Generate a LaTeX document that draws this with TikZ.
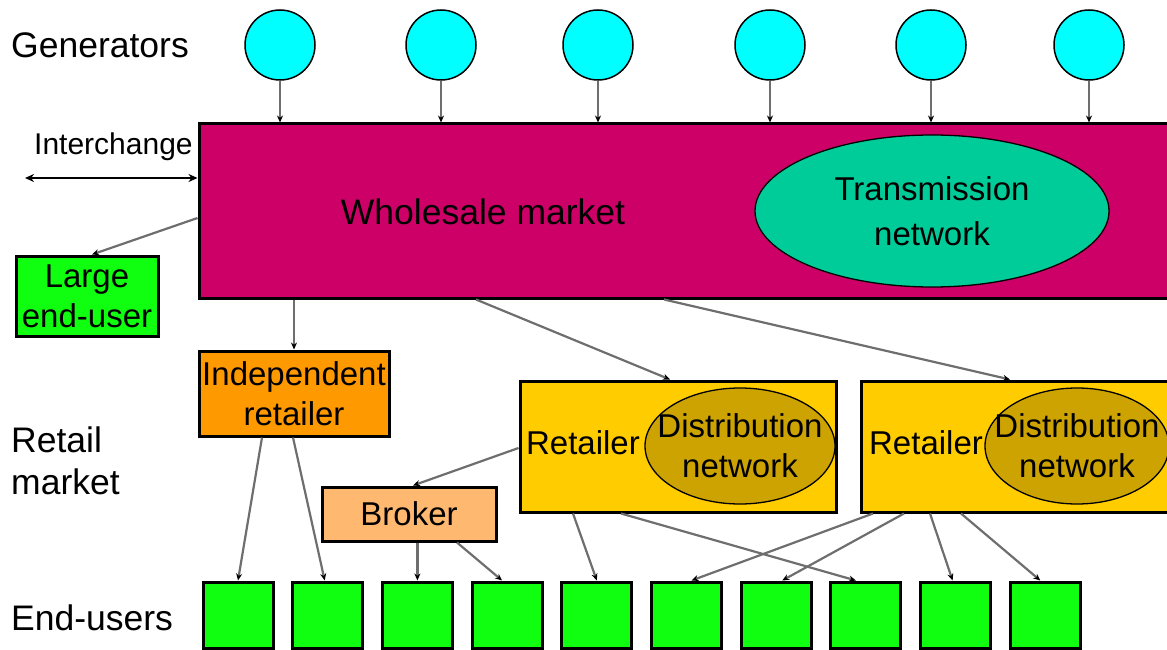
\documentclass[tikz,border=0pt]{standalone}
\usepackage{fontspec}
\setmainfont{Liberation Sans}
\usetikzlibrary{arrows.meta,shapes.geometric,calc}

\definecolor{gencyan}{RGB}{0,255,255}
\definecolor{wholesale}{RGB}{204,0,102}
\definecolor{transgreen}{RGB}{0,204,153}
\definecolor{usergreen}{RGB}{16,255,16}
\definecolor{indorange}{RGB}{255,153,0}
\definecolor{brokerpeach}{RGB}{255,184,112}
\definecolor{retailgold}{RGB}{255,204,0}
\definecolor{distgold}{RGB}{204,163,0}
\definecolor{linkgray}{RGB}{110,110,110}

\tikzset{
  txt/.style={font=\fontsize{33}{40}\selectfont, inner sep=0pt},
  bigtxt/.style={font=\fontsize{35.5}{42}\selectfont, inner sep=0pt},
  gen/.style={circle, draw=black, line width=1.5pt, fill=gencyan, minimum size=70pt, inner sep=0pt},
  boxed/.style={rectangle, draw=black, line width=3pt, inner sep=0pt, align=center, txt},
  oval/.style={ellipse, draw=black, line width=1.3pt, inner sep=0pt},
  enduser/.style={boxed, fill=usergreen, minimum width=70pt, minimum height=66pt},
  conn/.style={draw=linkgray, line width=2.2pt, -{Stealth[length=7pt,width=6pt,color=black]}},
}

\begin{document}
\begin{tikzpicture}[x=1pt,y=-1pt]
\useasboundingbox (0,0) rectangle (1167,650);

% side labels
\node[bigtxt, anchor=west] (lgen) at (11,45) {Generators};
\node[txt, anchor=west, font=\fontsize{30}{36}\selectfont] (lint) at (34,147) {Interchange};
\node[bigtxt, anchor=west, align=left] (lret) at (11,461) {Retail\\market};
\node[bigtxt, anchor=west] (lend) at (11,618) {End-users};

% generators
\foreach \i/\x in {1/280,2/441,3/598,4/770,5/931,6/1089}
  \node[gen] (g\i) at (\x,45) {};

% wholesale market with transmission network
\node[boxed, fill=wholesale, minimum width=976pt, minimum height=174pt] (wm) at (687,211) {};
\node[bigtxt] (wmtext) at (483,212) {Wholesale market};
\node[oval, fill=transgreen, minimum width=354pt, minimum height=152pt] (trans) at (932,211) {};
\node[txt, align=center, font=\fontsize{33}{45}\selectfont] (transtext) at (932,211) {Transmission\\network};

% interchange arrow
\coordinate (xl) at (25,178);
\draw[black, line width=2.5pt, {Stealth[length=9pt,width=8pt]}-{Stealth[length=9pt,width=8pt]}] (xl) -- (xl -| wm.west);

% large end-user
\node[boxed, fill=usergreen, minimum width=142pt, minimum height=80pt] (lue) at (87,296) {Large\\end-user};

% retail level
\node[boxed, fill=indorange, minimum width=190pt, minimum height=85pt] (ind) at (294,393.5) {Independent\\retailer};
\node[boxed, fill=brokerpeach, minimum width=174pt, minimum height=54pt] (brk) at (409,514) {Broker};

\node[boxed, fill=retailgold, minimum width=316pt, minimum height=131pt] (ret1) at (678,446.5) {};
\node[oval, fill=distgold, minimum width=190pt, minimum height=116pt] (dist1) at (740,446) {};
\node[txt, align=center] (dist1text) at (740,446) {Distribution\\network};
\node[txt] (ret1text) at (583,443) {Retailer};

\node[boxed, fill=retailgold, minimum width=314pt, minimum height=131pt] (ret2) at (1018,446.5) {};
\node[oval, fill=distgold, minimum width=184pt, minimum height=116pt] (dist2) at (1077,446) {};
\node[txt, align=center] (dist2text) at (1077,446) {Distribution\\network};
\node[txt] (ret2text) at (926,443) {Retailer};

% end-users
\foreach \i in {1,...,10}
  \node[enduser] (eu\i) at ({238+89.7*(\i-1)},615) {};

% generators feed the wholesale market
\foreach \i in {1,...,6}
  \draw[conn] (g\i) -- (g\i |- wm.north);

% wholesale market links
\draw[conn] ([yshift=-7pt]wm.west) -- ([xshift=5pt]lue.north);
\draw[conn] (ind.north |- wm.south) -- (ind.north);
\draw[conn] ([xshift=-211pt]wm.south) -- ([xshift=-8pt]ret1.north);
\draw[conn] ([xshift=-23pt]wm.south) -- ([xshift=-8pt]ret2.north);

% independent retailer and broker
\draw[conn] ([xshift=-32pt]ind.south) -- (eu1.north);
\draw[conn] ([xshift=-1pt]ind.south) -- ([xshift=-3pt]eu2.north);
\draw[conn] (eu3.north |- brk.south) -- (eu3.north);
\draw[conn] ([xshift=48pt]brk.south) -- ([xshift=-5pt]eu4.north);

% retailers
\draw[conn] ([yshift=-1.5pt]ret1.west) -- ([xshift=4pt]brk.north);
\draw[conn] ([xshift=-105pt]ret1.south) -- (eu5.north);
\draw[conn] ([xshift=-57pt]ret1.south) -- ([xshift=-10pt]eu8.north);
\draw[conn] ([xshift=-145pt]ret2.south) -- ([xshift=5pt]eu6.north);
\draw[conn] ([xshift=-114pt]ret2.south) -- ([xshift=6pt]eu7.north);
\draw[conn] ([xshift=-88pt]ret2.south) -- ([xshift=-3pt]eu9.north);
\draw[conn] ([xshift=-57pt]ret2.south) -- ([xshift=-5pt]eu10.north);
\end{tikzpicture}
\end{document}
